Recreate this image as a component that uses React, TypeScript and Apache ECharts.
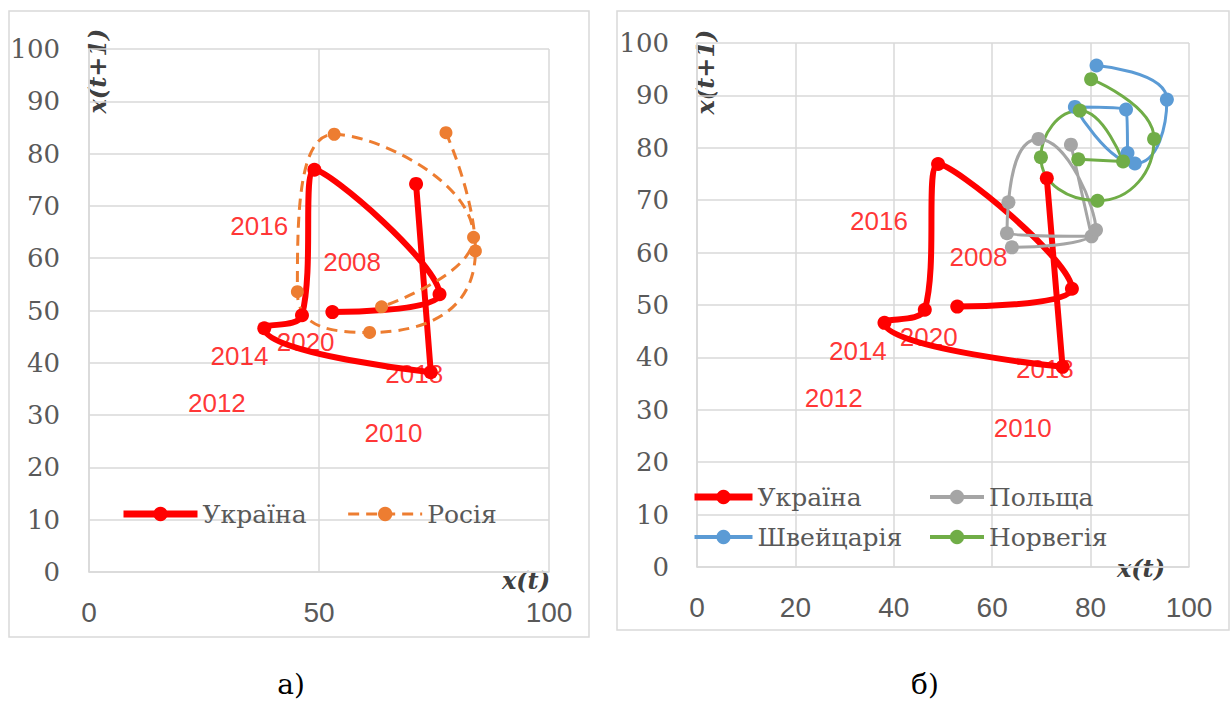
import React, { useEffect, useRef } from 'react';
import * as echarts from 'echarts';

// ---- data (x(t), x(t+1)) ----
const years = ['2008', '2010', '2012', '2014', '2016', '2018', '2020'];
const yearLabelX = [57.2, 66.2, 27.8, 32.7, 37.0, 70.7, 47.1];
const yearLabelY = [59.2, 26.5, 32.3, 41.3, 66.1, 37.8, 43.9];

const ukraineX = [71.1, 74.3, 38.1, 46.3, 49.0, 76.2, 52.9];
const ukraineY = [74.2, 38.2, 46.6, 49.1, 76.9, 53.1, 49.7];

const russiaX = [77.6, 84.0, 61.0, 45.3, 53.3, 83.6, 63.6];
const russiaY = [84.0, 61.4, 45.8, 53.6, 83.7, 64.0, 50.7];

const polandX = [76.0, 80.2, 63.0, 63.3, 69.4, 81.1, 64.0];
const polandY = [80.6, 63.1, 63.7, 69.6, 81.7, 64.3, 61.0];

const swissX = [81.2, 95.5, 89.0, 76.8, 87.2, 87.5];
const swissY = [95.7, 89.2, 77.0, 87.8, 87.3, 79.0];

const norwayX = [80.1, 92.9, 81.4, 69.9, 77.8, 86.6, 77.5];
const norwayY = [93.1, 81.7, 69.9, 78.2, 87.1, 77.4, 77.8];

const zip = (xs: number[], ys: number[]) => xs.map((x, i) => [x, ys[i]]);

const GRID = '#D9D9D9';
const TXT = '#595959';
const SERIF = 'DejaVu Serif';
const SANS = 'Liberation Sans';

function xAxisCfg(gridIndex: number, interval: number) {
  return {
    type: 'value', gridIndex, min: 0, max: 100, interval,
    axisLine: { show: true, lineStyle: { color: GRID, width: 1.5 } },
    axisTick: { show: false },
    splitLine: { show: true, lineStyle: { color: GRID, width: 1.5 } },
    axisLabel: { margin: 26, color: TXT, fontSize: 28, fontFamily: SANS },
  };
}
function yAxisCfg(gridIndex: number, margin: number) {
  return {
    type: 'value', gridIndex, min: 0, max: 100, interval: 10,
    axisLine: { show: true, lineStyle: { color: GRID, width: 1.5 } },
    axisTick: { show: false },
    splitLine: { show: true, lineStyle: { color: GRID, width: 1.5 } },
    axisLabel: { margin, color: TXT, fontSize: 26, fontFamily: SERIF },
  };
}

function lineSeries(name: string, idx: number, xs: number[], ys: number[], color: string, width: number, size: number, dashed = false) {
  return {
    type: 'line', name, xAxisIndex: idx, yAxisIndex: idx,
    data: zip(xs, ys), smooth: 0.55, symbol: 'circle', symbolSize: size,
    lineStyle: { color, width, type: dashed ? [11, 7] : 'solid' },
    itemStyle: { color },
    z: 3,
  };
}

function labelSeries(idx: number) {
  return {
    type: 'scatter', name: 'years' + idx, xAxisIndex: idx, yAxisIndex: idx,
    data: years.map((y, i) => ({ value: [yearLabelX[i], yearLabelY[i]], name: y })),
    symbolSize: 1, itemStyle: { color: 'rgba(0,0,0,0)' }, silent: true, z: 2,
    label: { show: true, position: 'inside', formatter: '{b}', color: '#FF0000', fontSize: 26, fontFamily: SANS },
  };
}

const legendText = { color: TXT, fontSize: 25, fontFamily: SERIF, lineHeight: 30 };
const thick = { lineStyle: { width: 7 } };
const thin = { lineStyle: { width: 4 } };

const axisNameStyle = (text: string) => ({
  text, fontFamily: SERIF, fontStyle: 'italic', fontWeight: 'bold', fontSize: 24,
  fill: '#404040', align: 'center', verticalAlign: 'middle',
});

const option: any = {
  animation: false,
  backgroundColor: '#ffffff',
  grid: [
    { left: 89, top: 49, width: 460, height: 523 },
    { left: 697, top: 43, width: 492, height: 524 },
  ],
  xAxis: [xAxisCfg(0, 50), xAxisCfg(1, 20)],
  yAxis: [yAxisCfg(0, 29), yAxisCfg(1, 28)],
  legend: [
    { data: [{ name: 'Україна', ...thick }, { name: 'Росія', lineStyle: { width: 3 } }], left: 120, top: 499, padding: 0, itemWidth: 74, itemHeight: 18, itemGap: 40, textStyle: legendText, selectedMode: false },
    { data: [{ name: 'Україна', ...thick }, { name: 'Швейцарія', ...thin }], orient: 'vertical', left: 691, top: 482, padding: 0, itemWidth: 58, itemHeight: 18, itemGap: 10, textStyle: legendText, selectedMode: false },
    { data: [{ name: 'Польща', ...thin }, { name: 'Норвегія', ...thin }], orient: 'vertical', left: 928, top: 482, padding: 0, itemWidth: 54, itemHeight: 18, itemGap: 10, textStyle: legendText, selectedMode: false },
  ],
  series: [
    lineSeries('Україна', 0, ukraineX, ukraineY, '#FF0000', 6, 14),
    lineSeries('Росія', 0, russiaX, russiaY, '#ED7D31', 3, 13, true),
    labelSeries(0),
    lineSeries('Україна', 1, ukraineX, ukraineY, '#FF0000', 6, 14),
    lineSeries('Польща', 1, polandX, polandY, '#A5A5A5', 3, 14),
    lineSeries('Швейцарія', 1, swissX, swissY, '#5B9BD5', 3, 14),
    lineSeries('Норвегія', 1, norwayX, norwayY, '#70AD47', 3, 14),
    labelSeries(1),
  ],
  graphic: [
    { type: 'rect', shape: { x: 9, y: 11, width: 580, height: 626 }, style: { fill: 'none', stroke: GRID, lineWidth: 1.5 }, z: -1 },
    { type: 'rect', shape: { x: 617, y: 11, width: 612, height: 619 }, style: { fill: 'none', stroke: GRID, lineWidth: 1.5 }, z: -1 },
    { type: 'text', x: 97, y: 71, rotation: Math.PI / 2, style: axisNameStyle('x(t+1)') },
    { type: 'text', x: 705, y: 72, rotation: Math.PI / 2, style: axisNameStyle('x(t+1)') },
    { type: 'text', x: 526, y: 580, style: axisNameStyle('x(t)') },
    { type: 'text', x: 1141, y: 568, style: axisNameStyle('x(t)') },
    { type: 'text', x: 291, y: 684, style: { text: 'а)', fontFamily: SERIF, fontSize: 28, fill: '#000000', align: 'center', verticalAlign: 'middle' } },
    { type: 'text', x: 925, y: 684, style: { text: 'б)', fontFamily: SERIF, fontSize: 28, fill: '#000000', align: 'center', verticalAlign: 'middle' } },
  ],
};

export default function App() {
  const ref = useRef<HTMLDivElement>(null);
  useEffect(() => {
    const chart = echarts.init(ref.current!, null, { renderer: 'svg' });
    chart.setOption(option);
    return () => chart.dispose();
  }, []);
  return (
    <div
      ref={ref}
      style={{ position: 'fixed', left: 0, top: 0, width: 1232, height: 702, background: '#ffffff' }}
    />
  );
}
